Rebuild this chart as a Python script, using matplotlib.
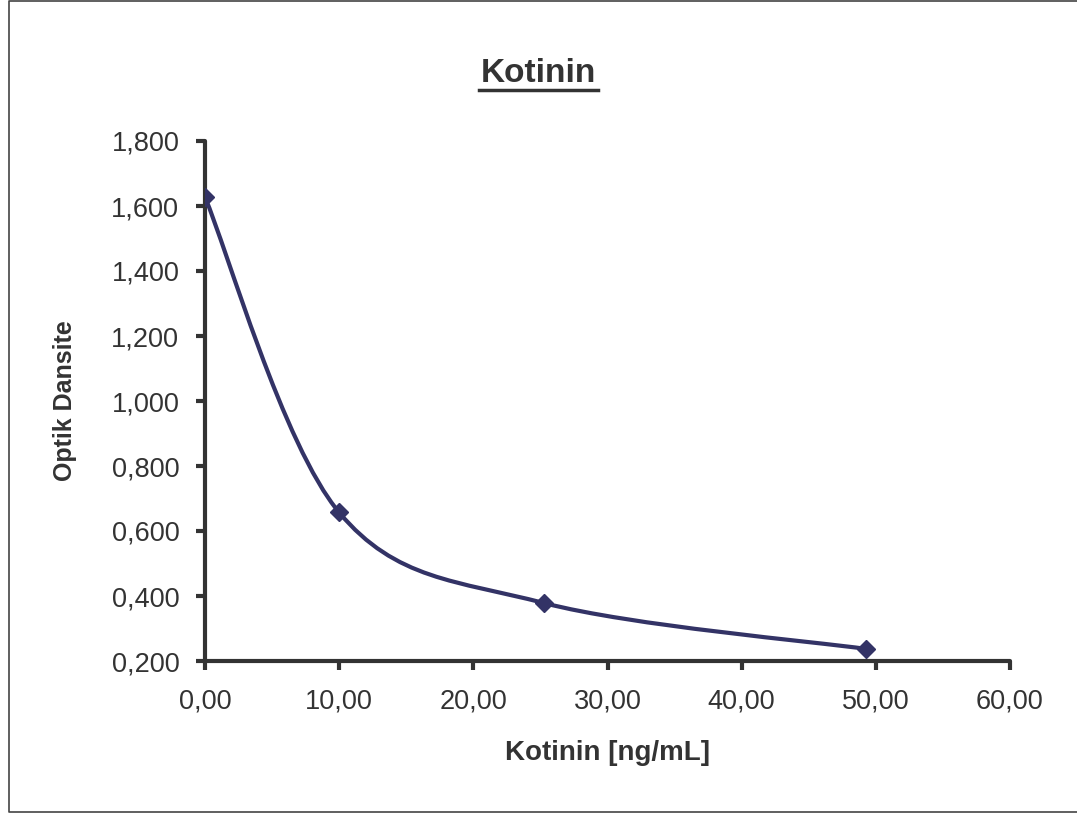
import numpy as np
import matplotlib.pyplot as plt
from matplotlib.path import Path
from matplotlib.patches import PathPatch
from matplotlib.lines import Line2D
from matplotlib.ticker import FuncFormatter

plt.rcParams['font.family'] = ['Liberation Sans', 'DejaVu Sans']

# data
conc = [0.0, 10.0, 25.3, 49.3]
od = [1.627, 0.657, 0.378, 0.237]

xticks = [0, 10, 20, 30, 40, 50, 60]
yticks = [0.2, 0.4, 0.6, 0.8, 1.0, 1.2, 1.4, 1.6, 1.8]

line_col = '#333366'
ink = '#333333'


def excel_smooth(xs, ys):
    # cubic bezier segments like Excel's "smoothed line"
    p = np.column_stack([xs, ys])
    n = len(p)
    verts = [p[0]]
    codes = [Path.MOVETO]
    for i in range(n - 1):
        prev = p[max(i - 1, 0)]
        nxt = p[min(i + 2, n - 1)]
        c1 = p[i] + (p[i + 1] - prev) / 6.0
        c2 = p[i + 1] - (nxt - p[i]) / 6.0
        verts += [c1, c2, p[i + 1]]
        codes += [Path.CURVE4] * 3
    return Path(verts, codes)


fig = plt.figure(figsize=(10.77, 8.13), dpi=100)
ax = fig.add_axes([205 / 1077, 1 - 661 / 813, 805 / 1077, 520 / 813])

ax.add_patch(PathPatch(excel_smooth(conc, od), facecolor='none',
                       edgecolor=line_col, lw=3, capstyle='round', zorder=3))
ax.plot(conc, od, linestyle='none', marker='D', ms=9, color=line_col, zorder=4)

ax.set_xlim(0, 60)
ax.set_ylim(0.2, 1.8)
ax.set_xticks(xticks)
ax.set_yticks(yticks)
ax.xaxis.set_major_formatter(FuncFormatter(lambda v, p: f'{v:.2f}'.replace('.', ',')))
ax.yaxis.set_major_formatter(FuncFormatter(lambda v, p: f'{v:.3f}'.replace('.', ',')))

for s in ['top', 'right']:
    ax.spines[s].set_visible(False)
for s in ['left', 'bottom']:
    ax.spines[s].set_color(ink)
    ax.spines[s].set_linewidth(3)
    ax.spines[s].set_capstyle('round')
ax.tick_params(direction='out', length=6.5, width=3, color=ink, labelcolor=ink,
               labelsize=19.5)
ax.tick_params(axis='x', pad=13)
ax.tick_params(axis='y', pad=12)
ax.set_facecolor('none')

ax.set_xlabel('Kotinin [ng/mL]', fontsize=20, fontweight='bold', color=ink)
ax.set_ylabel('Optik Dansite', fontsize=18, fontweight='bold', color=ink)
ax.xaxis.label.set_va('center')
ax.yaxis.label.set_va('center')
ax.xaxis.set_label_coords(0.5, (661 - 753) / 520)
ax.yaxis.set_label_coords((65 - 205) / 805, 0.5)

title = fig.text(0.5, 1 - 73 / 813, 'Kotinin', ha='center', va='center',
                 fontsize=24, fontweight='bold', color=ink)

# underline the title
fig.canvas.draw()
bb = title.get_window_extent().transformed(fig.transFigure.inverted())
fig.add_artist(Line2D([bb.x0 - 0.002, bb.x1 + 0.002], [1 - 90 / 813, 1 - 90 / 813],
                      transform=fig.transFigure, color=ink, lw=2.5))

# outer frame (left, top, bottom)
fig.add_artist(Line2D([1.0, 8.5 / 1077, 8.5 / 1077, 1.0],
                      [1 - 1 / 813, 1 - 1 / 813, 1.5 / 813, 1.5 / 813],
                      transform=fig.transFigure, color='#444444', lw=1.2))

fig.savefig('out.png', dpi=100)
